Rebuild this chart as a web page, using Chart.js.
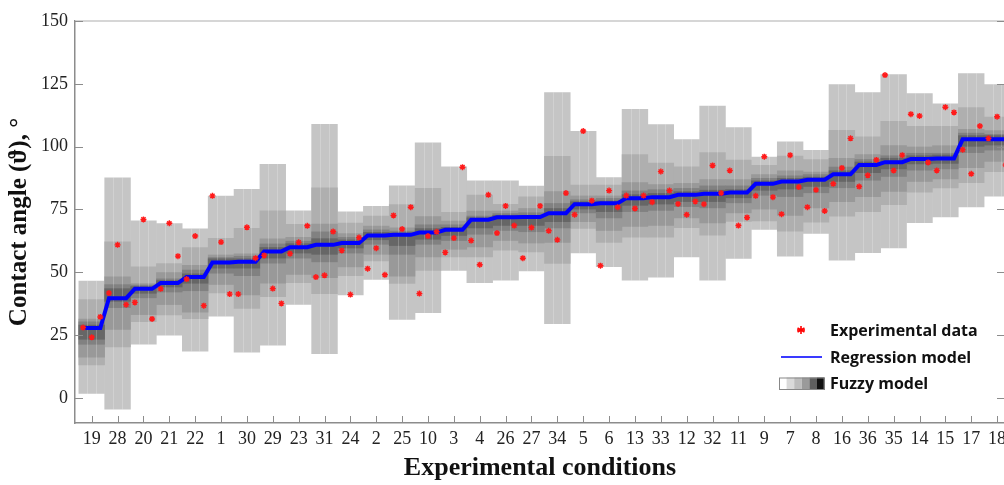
<!DOCTYPE html>
<html>
<head>
<meta charset="utf-8">
<script src="https://cdn.jsdelivr.net/npm/chart.js@4.4.0/dist/chart.umd.min.js"></script>
<style>
html,body{margin:0;padding:0;overflow:hidden;background:#fff}
#wrap{width:1020px;height:485px}
</style>
</head>
<body>
<div id="wrap"><canvas id="c" width="1020" height="485"></canvas></div>
<script>
// ---- data ----
const categories = ['19','28','20','21','22','1','30','29','23','31','24','2','25','10','3','4','26','27','34','5','6','13','33','12','32','11','9','7','8','16','36','35','14','15','17','18'];
const regression = [27.8,39.7,43.4,45.7,48.1,53.9,54.2,58.3,60.0,60.9,61.6,64.6,64.9,65.8,66.9,70.9,71.9,72.0,73.5,77.1,77.5,79.5,79.9,80.8,81.2,81.7,85.2,86.1,86.8,89.0,92.7,93.8,95.1,95.3,102.9,102.9];
const expLeft   = [28.0,41.7,38.0,43.4,47.3,80.4,41.3,56.7,57.4,48.1,58.7,51.4,72.6,41.5,57.9,62.6,65.6,55.6,66.5,72.9,52.6,80.5,77.9,77.2,77.1,90.5,80.4,73.1,75.9,85.2,84.1,128.5,112.9,90.5,98.8,103.3];
const expCenter = [24.1,60.9,71.0,69.5,64.4,62.0,67.9,43.5,61.9,48.8,41.1,59.6,67.2,64.4,63.6,53.0,76.4,67.8,62.9,106.2,82.5,75.4,90.1,72.9,92.5,68.6,96.0,96.6,82.8,91.5,88.6,90.5,112.2,115.7,89.2,111.9];
const expRight  = [32.2,37.1,31.4,56.4,36.7,41.3,55.6,37.6,68.5,66.2,63.8,49.0,75.9,66.1,91.8,80.8,68.6,76.4,81.5,78.5,75.9,80.5,82.5,78.2,81.5,71.8,79.9,83.9,74.4,103.3,94.7,96.6,93.7,113.6,108.2,92.7];

const fuzzy1Low  = [1.6,-4.6,21.2,24.8,18.5,32.4,18.1,20.8,37.1,17.5,40.8,47.0,31.1,33.8,50.6,45.7,46.7,50.4,29.4,57.6,52.1,46.7,47.9,56.0,46.7,55.4,66.9,56.3,65.3,54.7,57.7,59.6,69.6,71.9,75.9,80.1];
const fuzzy1High = [46.6,87.7,70.6,69.5,67.4,80.4,83.1,93.1,74.6,109.0,74.2,76.4,84.5,101.6,92.1,86.5,86.5,84.4,121.6,106.2,87.8,115.0,108.9,102.9,116.3,107.7,96.0,102.0,98.7,124.8,121.6,128.8,121.2,117.2,129.2,124.8];
const fuzzy2Low  = [13.0,20.1,30.2,32.9,31.4,41.6,35.5,40.1,45.7,41.3,48.5,54.4,45.4,50.6,56.0,56.0,58.7,58.0,53.4,67.3,61.7,63.8,63.8,67.6,64.6,70.1,70.3,66.2,69.8,72.2,74.0,76.8,81.7,83.4,85.5,89.9];
const fuzzy2High = [39.3,62.2,52.3,53.6,60.0,63.6,67.6,74.6,69.2,83.7,69.7,72.5,77.1,83.5,74.0,80.8,77.2,80.1,96.3,84.8,84.8,97.0,93.6,92.1,97.8,94.8,92.7,96.4,95.0,106.6,104.0,110.2,108.2,108.2,115.7,111.9];
const fuzzy3Low  = [16.1,27.1,33.0,37.0,34.0,45.0,40.8,45.5,49.0,47.7,52.0,57.0,48.3,56.0,59.0,60.0,62.5,61.5,61.7,70.0,66.5,68.1,68.5,71.5,69.5,73.5,75.0,72.5,75.5,78.0,80.0,82.0,86.0,87.0,91.5,94.0];
const fuzzy3High = [31.5,48.3,45.6,50.0,52.9,57.0,57.5,63.4,64.0,69.3,65.5,68.5,67.8,72.3,70.5,74.5,74.5,75.5,82.2,80.5,80.5,85.8,85.0,85.5,87.0,87.0,89.0,90.5,90.0,95.5,97.0,100.5,100.0,100.5,107.0,106.5];
const fuzzy4Low  = [21.2,35.8,39.7,42.0,42.5,49.5,48.5,53.5,55.5,54.0,57.5,61.0,57.0,61.0,62.5,65.0,66.5,66.0,67.5,73.5,71.5,74.0,74.5,76.0,75.5,77.5,80.5,80.0,81.5,83.5,86.5,88.0,90.5,91.0,97.5,98.5];
const fuzzy4High = [30.4,45.2,45.0,47.5,51.0,56.0,56.5,61.4,62.5,66.2,64.0,67.0,66.5,69.0,69.0,72.5,73.5,73.8,77.5,79.0,79.5,82.5,83.0,83.5,84.5,84.5,87.5,88.5,89.0,92.0,95.0,96.5,97.5,97.5,105.5,105.0];
const fuzzy5Low  = [23.2,38.3,41.5,44.0,45.5,51.5,51.5,55.5,57.5,57.0,59.5,62.8,60.5,63.0,64.5,67.5,68.5,68.5,70.0,75.0,74.0,76.5,77.0,78.0,78.0,79.5,82.5,83.0,84.0,86.0,89.5,91.0,93.0,93.2,100.0,100.5];
const fuzzy5High = [29.1,43.6,44.4,46.8,49.5,55.5,55.5,60.0,61.5,63.5,63.0,66.0,65.8,67.5,68.0,71.8,72.8,72.8,75.5,78.2,78.5,81.0,81.5,82.2,82.8,83.0,86.5,87.5,88.0,90.5,94.0,95.5,96.5,96.8,104.5,104.5];

const yTicks = [0,25,50,75,100,125,150];

// ---- styles ----
const serif = "'Liberation Serif','DejaVu Serif',serif";
const bandColors = ['#c5c5c5','#afafaf','#999999','#818181','#666666'];
const bands = [[fuzzy1Low,fuzzy1High],[fuzzy2Low,fuzzy2High],[fuzzy3Low,fuzzy3High],[fuzzy4Low,fuzzy4High],[fuzzy5Low,fuzzy5High]];

const bandDatasets = bands.map((b,k)=>({
  type:'bar',
  label:'Fuzzy level '+(k+1),
  data: categories.map((c,i)=>({x:i, y:[b[0][i], b[1][i]]})),
  backgroundColor: bandColors[k],
  borderWidth:0,
  grouped:false,
  categoryPercentage:1,
  barPercentage:1.02,
  order:10-k
}));

const regData = [];
categories.forEach((c,i)=>{ regData.push({x:i-1/3,y:regression[i]},{x:i+1/3,y:regression[i]}); });
const expData = [];
categories.forEach((c,i)=>{ expData.push({x:i-1/3,y:expLeft[i]},{x:i,y:expCenter[i]},{x:i+1/3,y:expRight[i]}); });

function drawAsterisk(ctx,x,y,r){
  ctx.beginPath();
  for(let k=0;k<3;k++){
    const ang=Math.PI/2+k*Math.PI/3;
    ctx.moveTo(x+Math.cos(ang)*r,y+Math.sin(ang)*r);
    ctx.lineTo(x-Math.cos(ang)*r,y-Math.sin(ang)*r);
  }
  ctx.stroke();
}

const framePlugin = {
  id:'framePlugin',
  afterDatasetDraw(chart,args){
    if(args.index!==4) return;
    const ctx=chart.ctx, xs=chart.scales.x, ys=chart.scales.y;
    ctx.save();
    ctx.strokeStyle='rgba(255,255,255,0.22)';
    ctx.lineWidth=1;
    categories.forEach((c,i)=>{
      const top=ys.getPixelForValue(fuzzy1High[i]), bot=ys.getPixelForValue(fuzzy1Low[i]);
      [-1/6,1/6].forEach(o=>{
        const px=Math.round(xs.getPixelForValue(i+o))+0.5;
        ctx.beginPath(); ctx.moveTo(px,top); ctx.lineTo(px,bot); ctx.stroke();
      });
    });
    ctx.restore();
  },
  afterDraw(chart){
    const ctx=chart.ctx, a=chart.chartArea, xs=chart.scales.x, ys=chart.scales.y;
    ctx.save();
    // top / right frame lines
    ctx.strokeStyle='#c8c8c8'; ctx.lineWidth=1.5;
    ctx.beginPath(); ctx.moveTo(a.left,a.top); ctx.lineTo(a.right,a.top); ctx.stroke();
    ctx.beginPath(); ctx.moveTo(a.right,a.top); ctx.lineTo(a.right,a.bottom); ctx.stroke();
    // inward tick marks
    ctx.strokeStyle='#8c8c8c'; ctx.lineWidth=1;
    categories.forEach((c,i)=>{
      const px=Math.round(xs.getPixelForValue(i))+0.5;
      ctx.beginPath(); ctx.moveTo(px,a.bottom); ctx.lineTo(px,a.bottom-7); ctx.stroke();
    });
    yTicks.forEach(v=>{
      const py=Math.round(ys.getPixelForValue(v))+0.5;
      ctx.beginPath(); ctx.moveTo(a.left,py); ctx.lineTo(a.left+8,py); ctx.stroke();
      ctx.beginPath(); ctx.moveTo(a.right,py); ctx.lineTo(a.right-8,py); ctx.stroke();
    });
    // legend
    const lx=a.right-175, font="bold 16px 'Open Sans','Lato',sans-serif";
    ctx.font=font; ctx.fillStyle='#111'; ctx.textBaseline='alphabetic'; ctx.textAlign='left';
    ctx.fillText('Experimental data', lx, a.bottom-87);
    ctx.fillText('Regression model', lx, a.bottom-60);
    ctx.fillText('Fuzzy model', lx, a.bottom-34);
    // legend marker: asterisk
    ctx.strokeStyle='#ff0000'; ctx.lineWidth=1.6;
    drawAsterisk(ctx,a.right-204,a.bottom-93,4);
    ctx.beginPath(); ctx.moveTo(a.right-208,a.bottom-93); ctx.lineTo(a.right-200,a.bottom-93); ctx.stroke();
    // legend line
    ctx.strokeStyle='#3a3aff'; ctx.lineWidth=2;
    ctx.beginPath(); ctx.moveTo(a.right-224,a.bottom-66); ctx.lineTo(a.right-183,a.bottom-66); ctx.stroke();
    // legend swatch
    const sw=['#ffffff','#dadada','#bdbdbd','#9a9a9a','#5e5e5e','#111111'];
    const sx=a.right-226, sy=a.bottom-45.5, w=7.6, h=12.5;
    sw.forEach((col,k)=>{ctx.fillStyle=col; ctx.fillRect(sx+k*w,sy,w,h);});
    ctx.strokeStyle='#888'; ctx.lineWidth=1;
    ctx.strokeRect(sx+0.5,sy+0.5,w*6-1,h-1);
    ctx.restore();
  }
};

new Chart(document.getElementById('c'),{
  type:'bar',
  data:{
    datasets:[
      ...bandDatasets,
      {type:'line',label:'Regression model',data:regData,borderColor:'#0000ff',borderWidth:4,pointRadius:0,fill:false,tension:0,order:1},
      {type:'scatter',label:'Experimental data',data:expData,pointStyle:'star',pointRadius:3,pointBorderWidth:1.4,borderColor:'#ff1a1a',backgroundColor:'#ff1a1a',showLine:false,order:0}
    ]
  },
  options:{
    responsive:false,
    animation:false,
    devicePixelRatio:1,
    layout:{padding:{top:21,right:15,left:0,bottom:0}},
    plugins:{legend:{display:false},tooltip:{enabled:false}},
    scales:{
      x:{
        type:'linear', min:-0.646, max:35.305, offset:false,
        afterBuildTicks:s=>{s.ticks=categories.map((c,i)=>({value:i}));},
        afterFit:s=>{s.height=62;},
        ticks:{autoSkip:false,maxRotation:0,padding:5,color:'#222',font:{family:serif,size:18},callback:(v,i)=>categories[i]},
        grid:{display:false,drawTicks:false},
        border:{display:true,color:'#8c8c8c',width:1.5},
        title:{display:true,text:'Experimental conditions',color:'#111',font:{family:serif,size:26,weight:'bold'},padding:{top:0,bottom:1}}
      },
      y:{
        type:'linear', min:-10, max:150,
        afterBuildTicks:s=>{s.ticks=yTicks.map(v=>({value:v}));},
        afterFit:s=>{s.width=75;},
        ticks:{padding:7,color:'#222',font:{family:serif,size:18}},
        grid:{display:false,drawTicks:false},
        border:{display:true,color:'#8c8c8c',width:1.5},
        title:{display:true,text:'Contact angle (ϑ), °',color:'#111',font:{family:serif,size:25,weight:'bold'},padding:{top:5,bottom:0}}
      }
    }
  },
  plugins:[framePlugin]
});
</script>
</body>
</html>
